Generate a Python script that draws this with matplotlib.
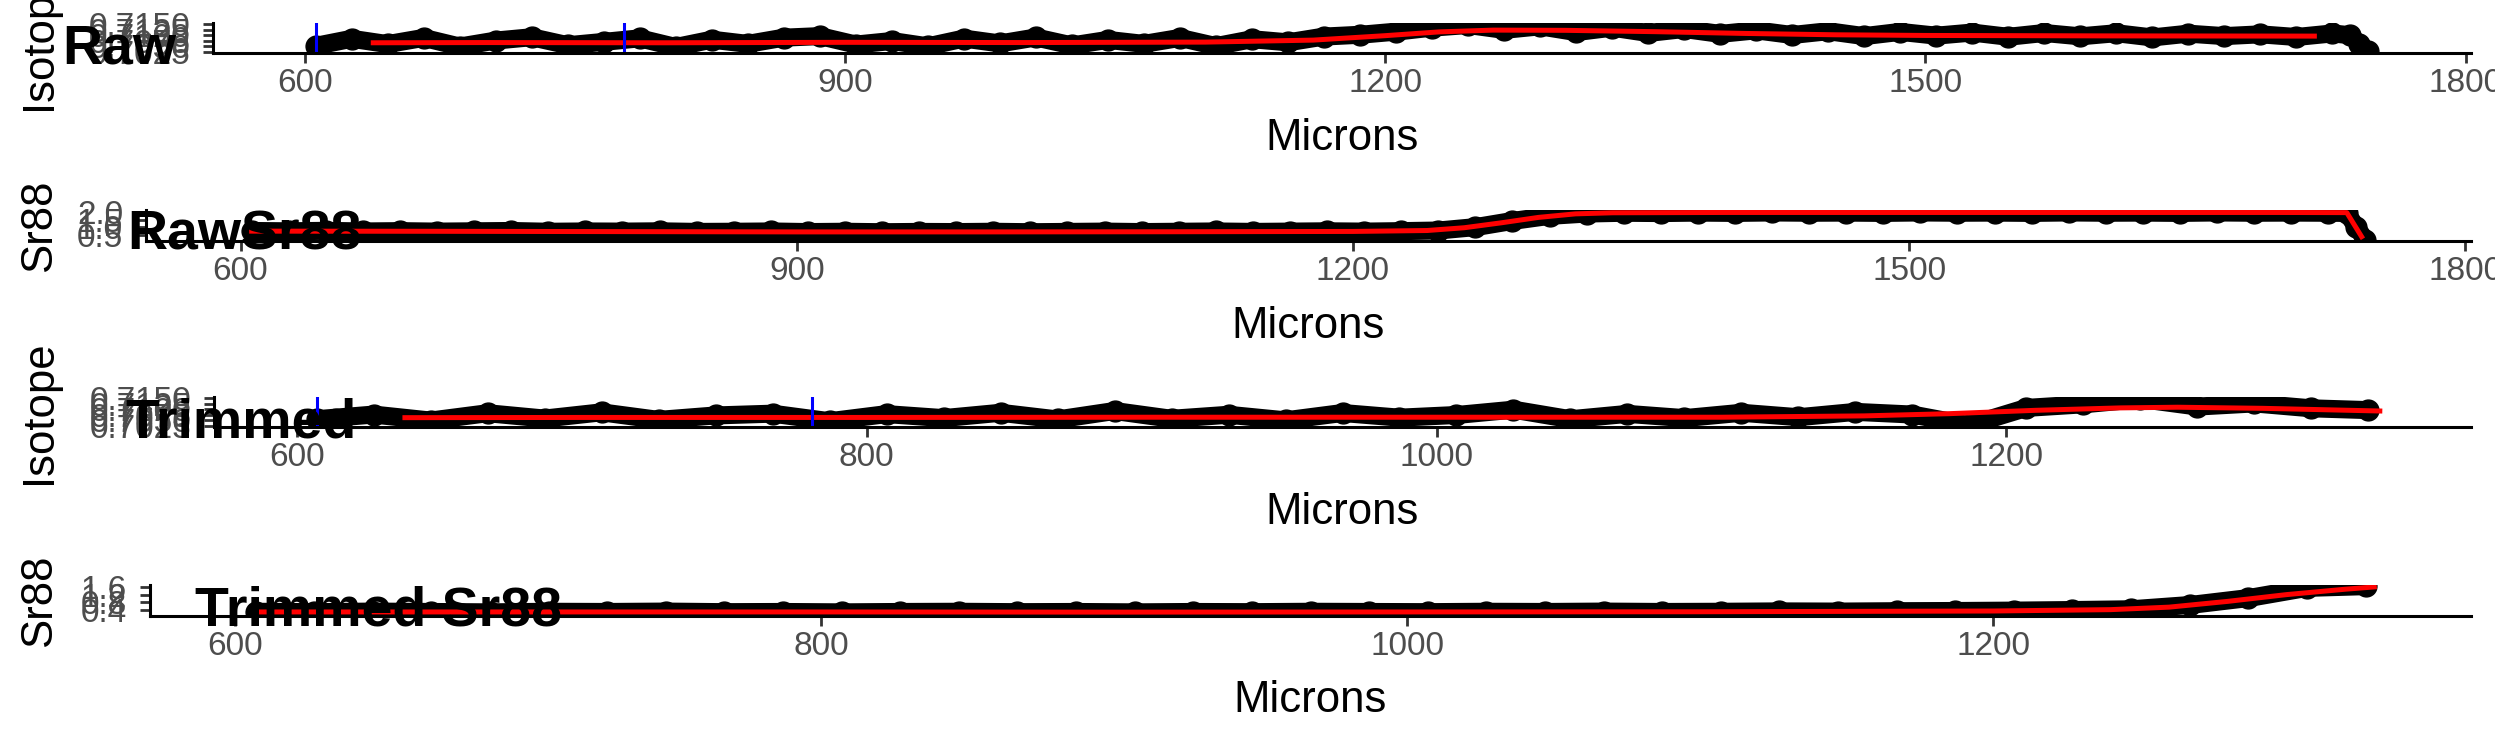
import numpy as np
import matplotlib
matplotlib.use('Agg')
import matplotlib.pyplot as plt
from matplotlib.transforms import blended_transform_factory

W, H = 2495, 749
plt.rcParams['font.family'] = ['Liberation Sans', 'DejaVu Sans']

# raw profile (points)
raw_microns = [606, 626, 646, 666, 686, 706, 726, 746, 766, 786,
               806, 826, 846, 866, 886, 906, 926, 946, 966, 986,
               1006, 1026, 1046, 1066, 1086, 1106, 1126, 1146, 1166, 1186,
               1206, 1226, 1246, 1266, 1286, 1306, 1326, 1346, 1366, 1386,
               1406, 1426, 1446, 1466, 1486, 1506, 1526, 1546, 1566, 1586,
               1606, 1626, 1646, 1666, 1686, 1706, 1726, 1736, 1741, 1746]
iso_raw = [0.7052, 0.7084, 0.7060, 0.7088, 0.7049, 0.7076, 0.7091, 0.7055, 0.7070, 0.7086,
           0.7047, 0.7080, 0.7061, 0.7089, 0.7096, 0.7058, 0.7074, 0.7050, 0.7085, 0.7063,
           0.7090, 0.7054, 0.7079, 0.7061, 0.7088, 0.7051, 0.7082, 0.7068, 0.7094, 0.7102,
           0.7116, 0.7134, 0.7146, 0.7124, 0.7140, 0.7114, 0.7134, 0.7110, 0.7128, 0.7106,
           0.7122, 0.7101, 0.7118, 0.7096, 0.7115, 0.7098, 0.7112, 0.7093, 0.7110, 0.7095,
           0.7109, 0.7090, 0.7107, 0.7096, 0.7104, 0.7092, 0.7108, 0.7100, 0.7060, 0.7030]
sr_raw = [0.77, 0.75, 0.78, 0.74, 0.76, 0.73, 0.75, 0.77, 0.72, 0.74,
          0.73, 0.75, 0.71, 0.72, 0.74, 0.70, 0.72, 0.69, 0.71, 0.70,
          0.72, 0.69, 0.71, 0.73, 0.70, 0.72, 0.74, 0.71, 0.73, 0.75,
          0.73, 0.76, 0.80, 1.02, 1.42, 1.75, 1.90, 1.95, 1.93, 1.96,
          1.94, 1.97, 1.95, 1.96, 1.94, 1.97, 1.95, 1.96, 1.94, 1.97,
          1.95, 1.96, 1.94, 1.97, 1.95, 1.96, 1.95, 1.94, 1.05, 0.20]

# raw smoothed (red)
iso_raw_smooth_x = [638, 700, 800, 900, 1000, 1100, 1160, 1200, 1230, 1260, 1300, 1350, 1400, 1450, 1500, 1600, 1716]
iso_raw_smooth = [0.7066, 0.7067, 0.7066, 0.7068, 0.7067, 0.7069, 0.7078, 0.7098, 0.7115, 0.7123,
                  0.7122, 0.7116, 0.7108, 0.7102, 0.7099, 0.7097, 0.7096]
sr_raw_smooth_x = [606, 700, 800, 900, 1000, 1100, 1200, 1240, 1260, 1280, 1300, 1320, 1340,
                   1400, 1500, 1600, 1700, 1736, 1744]
sr_raw_smooth = [0.76, 0.75, 0.73, 0.71, 0.71, 0.72, 0.74, 0.80, 0.98, 1.30, 1.65, 1.88, 1.95,
                 1.97, 1.97, 1.97, 1.97, 1.96, 0.40]

# trimmed profile (points)
trim_microns = [607, 627, 647, 667, 687, 707, 727, 747, 767, 787,
                807, 827, 847, 867, 887, 907, 927, 947, 967, 987,
                1007, 1027, 1047, 1067, 1087, 1107, 1127, 1147, 1167, 1187,
                1207, 1227, 1247, 1267, 1287, 1307, 1327]
iso_trim = [0.7055, 0.7076, 0.7049, 0.7082, 0.7058, 0.7086, 0.7052, 0.7072, 0.7080, 0.7046,
            0.7078, 0.7060, 0.7084, 0.7054, 0.7092, 0.7057, 0.7075, 0.7050, 0.7083, 0.7062,
            0.7074, 0.7098, 0.7055, 0.7079, 0.7060, 0.7084, 0.7064, 0.7088, 0.7076, 0.7028,
            0.7106, 0.7122, 0.7146, 0.7112, 0.7126, 0.7104, 0.7096]
sr_trim = [0.31, 0.29, 0.32, 0.30, 0.28, 0.31, 0.30, 0.32, 0.29, 0.30,
           0.28, 0.30, 0.31, 0.29, 0.30, 0.28, 0.30, 0.29, 0.31, 0.30,
           0.29, 0.31, 0.30, 0.32, 0.30, 0.31, 0.33, 0.32, 0.34, 0.35,
           0.37, 0.40, 0.44, 0.66, 1.02, 1.55, 1.64]

# trimmed smoothed (red)
iso_trim_smooth_x = [638, 700, 800, 900, 1000, 1050, 1100, 1150, 1180, 1210, 1240, 1260, 1290, 1331]
iso_trim_smooth = [0.7062, 0.7063, 0.7063, 0.7064, 0.7064, 0.7064, 0.7064, 0.7070, 0.7080, 0.7095,
                   0.7106, 0.7109, 0.7104, 0.7092]
sr_trim_smooth_x = [607, 700, 800, 900, 1000, 1100, 1200, 1240, 1260, 1280, 1300, 1320, 1330]
sr_trim_smooth = [0.30, 0.30, 0.30, 0.29, 0.30, 0.31, 0.35, 0.42, 0.55, 0.85, 1.20, 1.48, 1.60]

# window markers (blue)
raw_window = [606, 777]
trim_window = [607, 781]

iso_ticks = [0.7025, 0.7050, 0.7075, 0.7100, 0.7125, 0.7150]
sr_raw_ticks = [0.5, 1.0, 1.5, 2.0]
sr_trim_ticks = [0.4, 0.8, 1.2, 1.6]
raw_xticks = [600, 900, 1200, 1500, 1800]
trim_xticks = [600, 800, 1000, 1200]

iso_lim = (0.7020, 0.7155)
sr_raw_lim = (0.12, 2.13)
sr_trim_lim = (0.09, 1.70)


def expand(v):
    lo, hi = min(v), max(v)
    pad = 0.05 * (hi - lo)
    return lo - pad, hi + pad


fig = plt.figure(figsize=(W / 100, H / 100), dpi=100)

panels = [
    # box (left, top, right, bottom px), x, y, smooth x, smooth y, window, ylabel, ylim, yticks, fmt, xticks,
    # title, title pos, xlabel y
    ((213, 23, 2471, 53), raw_microns, iso_raw, iso_raw_smooth_x, iso_raw_smooth, raw_window,
     'Isotope', iso_lim, iso_ticks, '%.4f', raw_xticks, 'Raw', (62, 63), 138),
    ((146, 210, 2471, 241), raw_microns, sr_raw, sr_raw_smooth_x, sr_raw_smooth, None,
     'Sr88', sr_raw_lim, sr_raw_ticks, '%.1f', raw_xticks, 'RawSr88', (127, 250), 326),
    ((214, 397, 2471, 427), trim_microns, iso_trim, iso_trim_smooth_x, iso_trim_smooth, trim_window,
     'Isotope', iso_lim, iso_ticks, '%.4f', trim_xticks, 'Trimmed', (125, 438), 512),
    ((150, 585, 2471, 616), trim_microns, sr_trim, sr_trim_smooth_x, sr_trim_smooth, None,
     'Sr88', sr_trim_lim, sr_trim_ticks, '%.1f', trim_xticks, 'Trimmed Sr88', (195, 625), 700),
]

for (box, x, y, sx, sy, win, ylab, ylim, yt, fmt, xt, title, tpos, xlab_y) in panels:
    l, t, r, b = box
    ax = fig.add_axes([l / W, 1 - b / H, (r - l) / W, (b - t) / H])
    ax.plot(x, y, color='black', lw=13, solid_joinstyle='round', solid_capstyle='round', zorder=2)
    ax.plot(x, y, 'o', color='black', ms=15, zorder=2)
    ax.plot(sx, sy, color='red', lw=3.6, zorder=3)
    if win is not None:
        for w in win:
            ax.axvline(w, color='blue', lw=2.2, zorder=4)
    ax.set_xlim(*expand(x))
    ax.set_ylim(*ylim)
    ax.set_xticks(xt)
    ax.set_yticks(yt)
    ax.set_yticklabels([fmt % v for v in yt])
    for s in ['top', 'right']:
        ax.spines[s].set_visible(False)
    for s in ['left', 'bottom']:
        ax.spines[s].set_linewidth(2.2)
        ax.spines[s].set_color('black')
        ax.spines[s].set_zorder(5)
    ax.tick_params(axis='both', length=7.5, width=2, color='#333333',
                   labelcolor='#4D4D4D', labelsize=24)
    ax.tick_params(axis='x', pad=3.5)
    ax.tick_params(axis='y', pad=9)
    ax.set_xlabel('Microns', fontsize=31.5, va='center')
    ax.xaxis.set_label_coords(0.5, 1 - xlab_y / H,
                              transform=blended_transform_factory(ax.transAxes, fig.transFigure))
    ax.set_ylabel(ylab, fontsize=31.5, va='center', ha='center')
    ax.yaxis.set_label_coords(40 / W, 0.5,
                              transform=blended_transform_factory(fig.transFigure, ax.transAxes))
    fig.text(tpos[0] / W, 1 - tpos[1] / H, title, fontsize=40, fontweight='bold',
             ha='left', va='baseline', color='black')

fig.savefig('out.png', dpi=100)
